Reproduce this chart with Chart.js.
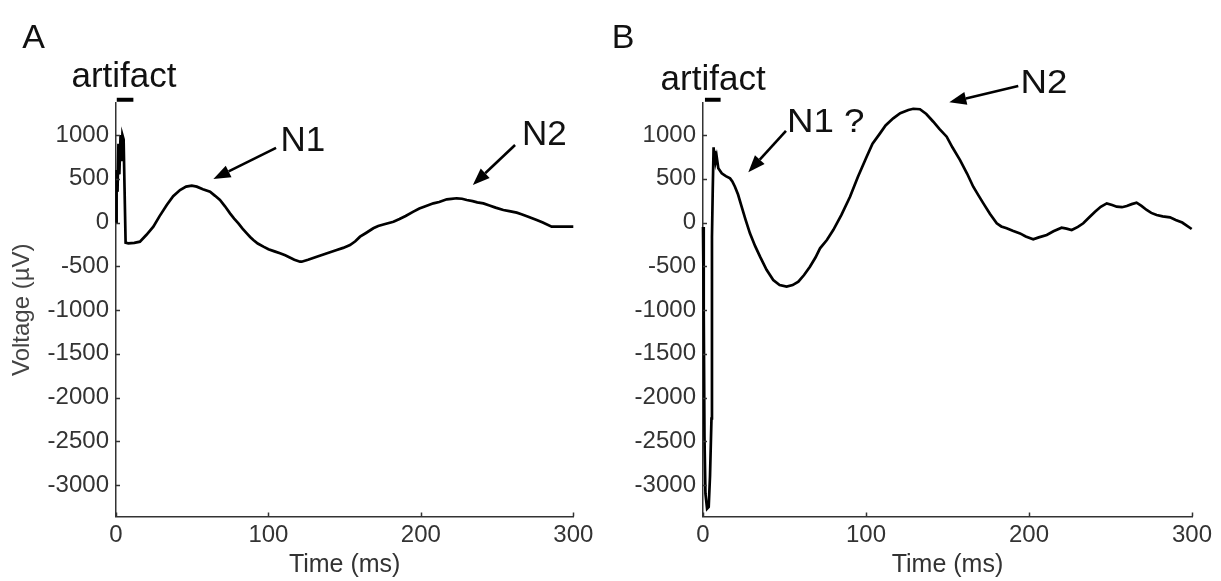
<!DOCTYPE html>
<html><head><meta charset="utf-8">
<script src="https://cdn.jsdelivr.net/npm/chart.js@4.4.0/dist/chart.umd.min.js"></script>
<style>
html,body{margin:0;padding:0;background:#fff;width:1221px;height:581px;overflow:hidden}
.wrap{position:absolute;top:0;height:581px}
#wa{left:0;width:610px}
#wb{left:610px;width:611px}
canvas{display:block}
</style></head><body>
<div class="wrap" id="wa"><canvas id="ca" width="610" height="581"></canvas></div>
<div class="wrap" id="wb"><canvas id="cb" width="611" height="581"></canvas></div>
<script>
// ---- data (time in ms, voltage in µV) ----
const timeA = [0,0.4,1.0,1.6,2.2,3.0,3.6,4.2,5.0,5.6,6.3,8.1,12,15.7,20,24.5,28.5,33.3,37.5,42,46,49.7,53,57,61.7,65,68.2,71.5,74.8,77.5,80.3,83,85.8,88,90.1,93,96.7,100,104,107.6,111,114,117,120.7,121.8,126,131.7,138,144.8,149,153.5,157,160.1,164,168.8,172,176,182,186,190,195.1,199,203,208.2,212,217,220,223.5,227,230.1,234,237,241,245,249,254.1,258,262.9,266,270,276,280,285.8,290,294,300];
const voltA = [0,600,350,900,550,1000,700,1000,950,400,-230,-238,-232,-219,-140,-48,70,200,300,371,410,421,410,380,352,305,257,185,105,45,-9,-70,-124,-165,-200,-240,-276,-305,-330,-352,-375,-400,-425,-448,-448,-425,-391,-355,-314,-290,-257,-215,-162,-120,-66,-40,-20,9,40,75,124,160,185,219,235,265,270,277,272,257,245,230,219,195,170,143,130,113,95,70,29,0,-48,-48,-48,-48];

const timeB = [0,0.3,0.6,0.9,1.5,2.5,3.5,4.3,5.2,5.5,6.0,6.5,6.9,7.3,7.8,8.4,9.4,11.5,14,16.6,18,19.6,21.5,23.7,26,28.8,32,35,39,43.1,47,51.3,55,58.5,62,65.6,69,71.8,76,79.9,85,90.2,95,100.4,104,108.6,112,116.7,121,126,129,133.1,137,141.3,145,149.5,153,157.7,162,165.8,169,172,176,180.2,183,186.3,190,194.5,198,202.6,206,210.9,215,220,223,226.2,230,233.3,237,240.5,244,247.7,251,253.8,257,260,263,266,269,272.2,275,278.3,282,286.5,290,294,299.8];
const voltB = [-50,-400,-1000,-2450,-3100,-3270,-3250,-2900,-2240,-170,400,860,760,820,700,752,619,562,530,505,470,409,320,181,40,-124,-270,-390,-540,-657,-715,-733,-715,-676,-600,-505,-400,-295,-200,-86,90,295,520,752,900,1019,1110,1191,1250,1286,1300,1295,1240,1152,1070,981,860,714,560,409,310,219,100,-9,-45,-66,-95,-124,-160,-192,-170,-143,-100,-59,-70,-86,-50,-9,60,124,180,219,200,181,175,189,210,227,190,143,110,86,70,59,30,0,-74];

const xTicks = [0,100,200,300];
const yTicks = [-3000,-2500,-2000,-1500,-1000,-500,0,500,1000];

// ---- annotations (data coordinates) ----
const annA = {
  texts: [
    {s:'A', t:-61.5, v:2000, size:34, sx:1},
    {s:'artifact', t:-29.2, v:1548, size:35, sx:1},
    {s:'N1', t:107.9, v:821, size:35, sx:1},
    {s:'N2', t:266.4, v:886, size:35, sx:1}
  ],
  arrows: [{t0:105,v0:854,t1:63.9,v1:497},{t0:261.8,v0:886,t1:234.1,v1:429}],
  bar: {t0:0.5, t1:11.4, v:1403}
};
const annB = {
  texts: [
    {s:'B', t:-56, v:2000, size:34, sx:1},
    {s:'artifact', t:-26, v:1520, size:35, sx:1},
    {s:'N1 ?', t:51.5, v:1038, size:34, sx:1.08},
    {s:'N2', t:194.8, v:1477, size:34, sx:1.08}
  ],
  arrows: [{t0:50.9,v0:1046,t1:27.8,v1:574},{t0:193.4,v0:1560,t1:151.1,v1:1374}],
  bar: {t0:1.2, t1:10.8, v:1403}
};

const FONT = '"Liberation Sans", Arial, Helvetica, sans-serif';
Chart.defaults.font.family = FONT;

const annPlugin = {
  id: 'ann',
  afterDraw(chart, args, opts) {
    const ctx = chart.ctx, xs = chart.scales.x, ys = chart.scales.y;
    const a = opts.ann;
    ctx.save();
    // inward tick marks
    ctx.strokeStyle = '#333'; ctx.lineWidth = 1.5;
    const b = chart.chartArea;
    xTicks.forEach(v => {
      const px = Math.round(xs.getPixelForValue(v)) + 0.5;
      ctx.beginPath(); ctx.moveTo(px, b.bottom); ctx.lineTo(px, b.bottom - 4); ctx.stroke();
    });
    yTicks.forEach(v => {
      const py = Math.round(ys.getPixelForValue(v)) + 0.5;
      ctx.beginPath(); ctx.moveTo(b.left, py); ctx.lineTo(b.left + 4, py); ctx.stroke();
    });
    // artifact bar
    ctx.strokeStyle = '#000'; ctx.lineWidth = 4;
    ctx.beginPath();
    ctx.moveTo(xs.getPixelForValue(a.bar.t0), ys.getPixelForValue(a.bar.v));
    ctx.lineTo(xs.getPixelForValue(a.bar.t1), ys.getPixelForValue(a.bar.v));
    ctx.stroke();
    // arrows
    a.arrows.forEach(r => {
      const x0 = xs.getPixelForValue(r.t0), y0 = ys.getPixelForValue(r.v0);
      const x1 = xs.getPixelForValue(r.t1), y1 = ys.getPixelForValue(r.v1);
      const ang = Math.atan2(y1 - y0, x1 - x0);
      const hl = 17, hw = 6.5;
      const bx = x1 - hl * Math.cos(ang), by = y1 - hl * Math.sin(ang);
      ctx.strokeStyle = '#000'; ctx.lineWidth = 2.6;
      ctx.beginPath(); ctx.moveTo(x0, y0); ctx.lineTo(bx, by); ctx.stroke();
      ctx.fillStyle = '#000';
      ctx.beginPath();
      ctx.moveTo(x1, y1);
      ctx.lineTo(bx + hw * Math.sin(ang), by - hw * Math.cos(ang));
      ctx.lineTo(bx - hw * Math.sin(ang), by + hw * Math.cos(ang));
      ctx.closePath(); ctx.fill();
    });
    // texts
    a.texts.forEach(tx => {
      ctx.save();
      ctx.translate(xs.getPixelForValue(tx.t), ys.getPixelForValue(tx.v));
      ctx.scale(tx.sx || 1, 1);
      ctx.font = tx.size + 'px ' + FONT;
      ctx.fillStyle = '#111';
      ctx.textAlign = 'left'; ctx.textBaseline = 'alphabetic';
      ctx.fillText(tx.s, 0, 0);
      ctx.restore();
    });
    ctx.restore();
  }
};

function makeChart(id, times, volts, ann, yWidth, padRight, showYTitle) {
  const pts = times.map((t, i) => ({x: t, y: volts[i]}));
  return new Chart(document.getElementById(id), {
    type: 'line',
    data: { datasets: [{ data: pts, borderColor: '#000', borderWidth: 2.7, pointRadius: 0, tension: 0, fill: false, clip: 6 }] },
    options: {
      responsive: false, animation: false, parsing: false,
      layout: { padding: { left: 0, top: 103, right: padRight, bottom: 0 } },
      plugins: { legend: { display: false }, tooltip: { enabled: false }, ann: { ann: ann } },
      scales: {
        x: {
          type: 'linear', min: 0, max: 300,
          afterBuildTicks: s => { s.ticks = xTicks.map(v => ({value: v})); },
          afterFit: s => { s.height = 64.5; s.paddingLeft = 0; s.paddingRight = 0; },
          grid: { display: false, drawTicks: false },
          border: { display: true, color: '#333', width: 1.5 },
          ticks: { color: '#333', font: { size: 24 }, padding: 4, maxRotation: 0, autoSkip: false,
                   callback: v => String(v) },
          title: { display: true, text: 'Time (ms)', color: '#333', font: { size: 25 }, padding: { top: 0, bottom: 1 } }
        },
        y: {
          type: 'linear', min: -3360, max: 1366,
          afterBuildTicks: s => { s.ticks = yTicks.map(v => ({value: v})); },
          afterFit: s => { s.width = yWidth; s.paddingTop = 0; s.paddingBottom = 0; },
          grid: { display: false, drawTicks: false },
          border: { display: true, color: '#333', width: 1.5 },
          ticks: { color: '#333', font: { size: 24 }, padding: 7, autoSkip: false,
                   callback: v => String(v) },
          title: { display: showYTitle, text: 'Voltage (µV)', color: '#444', font: { size: 24 }, padding: { top: 8, bottom: 0 } }
        }
      }
    },
    plugins: [annPlugin]
  });
}

makeChart('ca', timeA, voltA, annA, 116, 36.7, true);
makeChart('cb', timeB, voltB, annB, 93, 29, false);
</script>
</body></html>
